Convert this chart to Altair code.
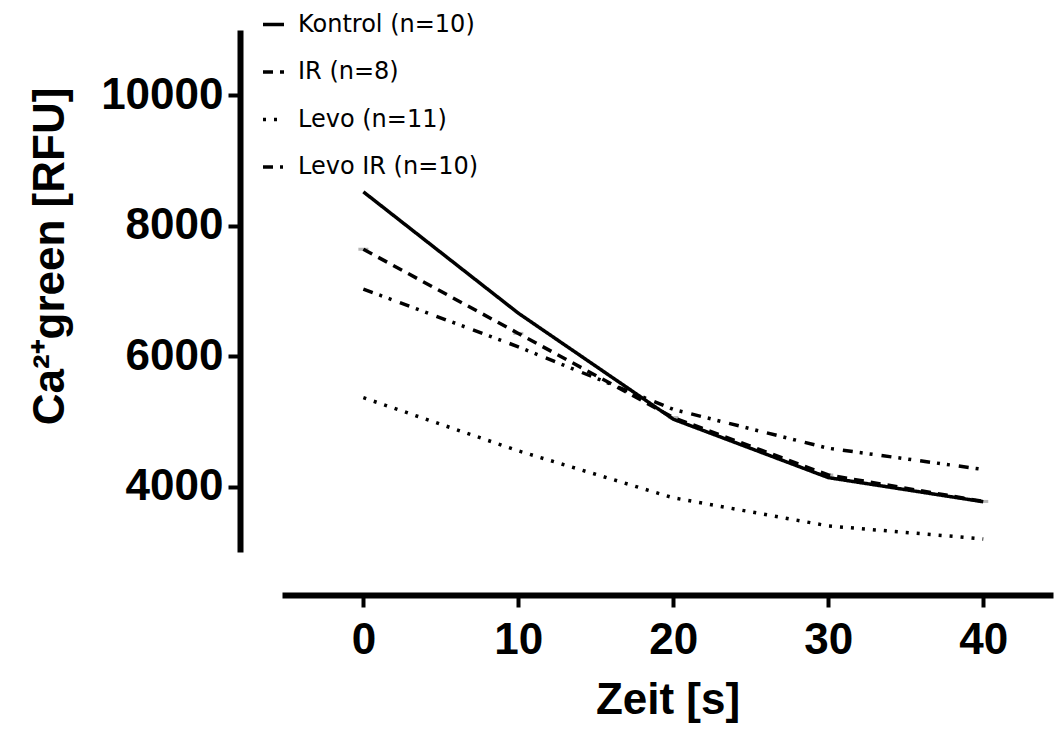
import altair as alt
import pandas as pd

times = [0, 10, 20, 30, 40]
series_names = ["Kontrol (n=10)", "IR (n=8)", "Levo (n=11)", "Levo IR (n=10)"]
kontrol = [8520, 6660, 5035, 4140, 3770]
ir = [7640, 6350, 5060, 4180, 3775]
levo = [5365, 4550, 3830, 3400, 3200]
levo_ir = [7030, 6145, 5185, 4590, 4265]

rows = []
for name, vals in zip(series_names, [kontrol, ir, levo, levo_ir]):
    for t, v in zip(times, vals):
        rows.append({"Zeit": t, "Wert": v, "Gruppe": name})
df = pd.DataFrame(rows)
df_ir = df[df["Gruppe"] == "IR (n=8)"]

x_scale = alt.Scale(domain=[-5.25, 44.5], nice=False, zero=False)
y_scale = alt.Scale(domain=[3000, 11000], nice=False, zero=False)

x_axis = alt.Axis(
    values=times, title="Zeit [s]", offset=43, grid=False,
    domainWidth=6, domainColor="black", tickColor="black", tickWidth=4, tickSize=12,
    labelFont="Liberation Sans", labelFontWeight="bold", labelFontSize=44, labelColor="black",
    labelPadding=11, titleFont="Liberation Sans", titleFontWeight="bold", titleFontSize=44,
    titleColor="black", titlePadding=16, labelFlush=False,
)
y_axis = alt.Axis(
    values=[4000, 6000, 8000, 10000], format="d", title="Ca²⁺green [RFU]", offset=42, grid=False,
    domainWidth=6, domainColor="black", tickColor="black", tickWidth=4, tickSize=12,
    labelFont="Liberation Sans", labelFontWeight="bold", labelFontSize=44, labelColor="black",
    labelPadding=5, titleFont="Liberation Sans", titleFontWeight="bold", titleFontSize=44,
    titleColor="black", titlePadding=28, titleY=226, labelFlush=False,
)

caps = alt.Chart(df_ir).mark_tick(color="#999999", orient="horizontal", size=10, thickness=3).encode(
    x=alt.X("Zeit:Q", scale=x_scale, axis=x_axis),
    y=alt.Y("Wert:Q", scale=y_scale, axis=y_axis),
)

lines = alt.Chart(df).mark_line(strokeWidth=3.5, color="black", strokeCap="butt").encode(
    x=alt.X("Zeit:Q", scale=x_scale, axis=x_axis),
    y=alt.Y("Wert:Q", scale=y_scale, axis=y_axis),
    strokeDash=alt.StrokeDash(
        "Gruppe:N",
        sort=series_names,
        scale=alt.Scale(domain=series_names, range=[[1, 0], [10, 7], [3, 8], [10, 7, 3, 7, 3, 9]]),
        legend=alt.Legend(
            title=None, orient="none", legendX=-21, legendY=-18, symbolType="stroke",
            symbolSize=441, symbolStrokeWidth=3.5, symbolStrokeColor="black",
            labelFont="DejaVu Sans", labelFontSize=24, labelColor="black", labelOffset=12,
            rowPadding=22.5, padding=0, labelLimit=400,
        ),
    ),
    order=alt.Order("Zeit:Q"),
)

chart = (caps + lines).properties(
    width=771, height=522,
    autosize=alt.AutoSizeParams(type="none"),
    padding={"left": 282, "top": 30, "right": 1, "bottom": 179},
    background="white",
).configure_view(strokeWidth=0, stroke="transparent")

chart.save("out.html", embed_options={"renderer": "svg", "actions": False})
